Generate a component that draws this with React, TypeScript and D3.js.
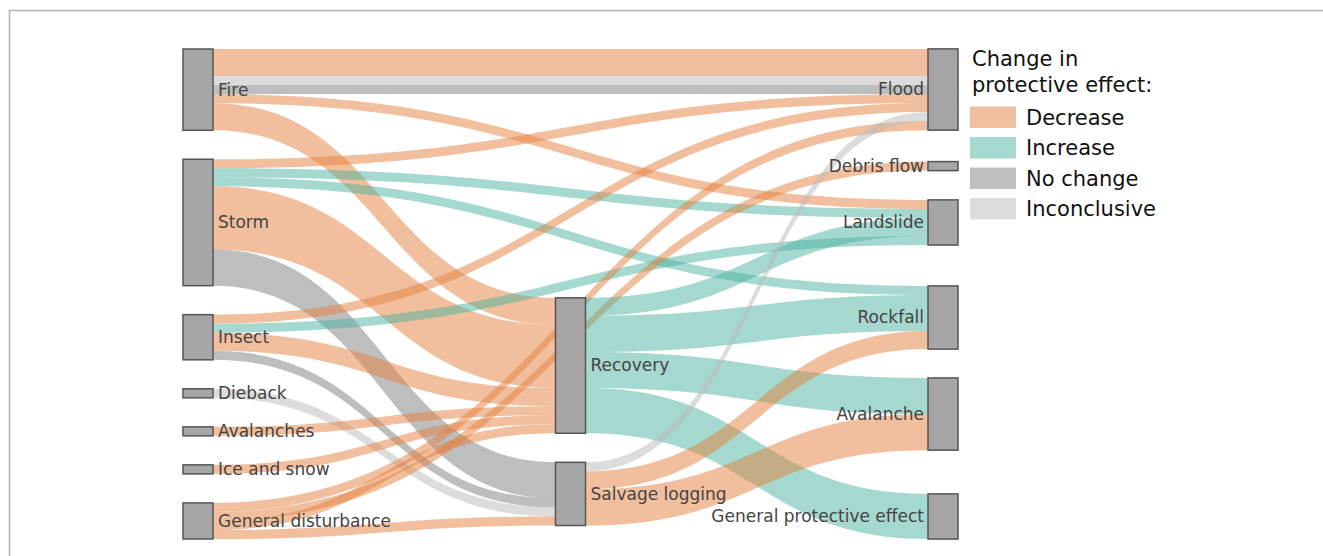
import { useEffect, useRef } from 'react';
import * as d3 from 'd3';

// nodes, in column order (disturbances -> post-disturbance -> hazards)
const nodeNames = [
  'Fire', 'Storm', 'Insect', 'Dieback', 'Avalanches', 'Ice and snow', 'General disturbance',
  'Recovery', 'Salvage logging',
  'Flood', 'Debris flow', 'Landslide', 'Rockfall', 'Avalanche', 'General protective effect',
];
// placement hints for node centres (fraction of plot height, like plotly's node.y); null = let the layout decide
const nodeYHint: (number | null)[] = [
  null, null, null, null, null, null, null,
  0.646, 0.908,
  0.0827, 0.239, 0.354, 0.548, 0.745, 0.954,
];

// links (number of cases)
const linkSources = [
  'Fire', 'Fire', 'Fire', 'Fire', 'Fire',
  'Storm', 'Storm', 'Storm', 'Storm', 'Storm',
  'Insect', 'Insect', 'Insect', 'Insect',
  'Dieback', 'Avalanches', 'Ice and snow',
  'General disturbance', 'General disturbance', 'General disturbance', 'General disturbance',
  'Recovery', 'Recovery', 'Recovery', 'Recovery',
  'Salvage logging', 'Salvage logging', 'Salvage logging',
];
const linkTargets = [
  'Flood', 'Flood', 'Flood', 'Landslide', 'Recovery',
  'Flood', 'Landslide', 'Rockfall', 'Recovery', 'Salvage logging',
  'Flood', 'Landslide', 'Recovery', 'Salvage logging',
  'Salvage logging', 'Recovery', 'Recovery',
  'Flood', 'Debris flow', 'Recovery', 'Salvage logging',
  'Landslide', 'Rockfall', 'Avalanche', 'General protective effect',
  'Flood', 'Rockfall', 'Avalanche',
];
const linkValues = [
  3, 1, 1, 1, 3,
  1, 1, 1, 7, 4,
  1, 1, 2, 1,
  1, 1, 1,
  1, 1, 1, 1,
  2, 4, 4, 5,
  1, 2, 4,
];
const linkEffects = [
  'Decrease', 'Inconclusive', 'No change', 'Decrease', 'Decrease',
  'Decrease', 'Increase', 'Increase', 'Decrease', 'No change',
  'Decrease', 'Increase', 'Decrease', 'No change',
  'Inconclusive', 'Decrease', 'Decrease',
  'Decrease', 'Decrease', 'Decrease', 'Decrease',
  'Increase', 'Increase', 'Increase', 'Increase',
  'Inconclusive', 'Decrease', 'Decrease',
];

const effectNames = ['Decrease', 'Increase', 'No change', 'Inconclusive'];
const effectColors = ['rgba(227,128,60,0.5)', 'rgba(76,178,160,0.5)', 'rgba(125,125,125,0.5)', 'rgba(185,185,185,0.5)'];

const W = 1323;
const H = 556;
const EXTENT = { x0: 183, y0: 49, x1: 958, y1: 539 };
const NODE_WIDTH = 30;
const NODE_PAD = 29;
const ITERATIONS = 32;

interface SNode {
  name: string;
  index: number;
  sourceLinks: SLink[];
  targetLinks: SLink[];
  value: number;
  depth: number;
  fixed: boolean;
  x0: number; x1: number; y0: number; y1: number;
}
interface SLink {
  source: SNode;
  target: SNode;
  value: number;
  effect: string;
  index: number;
  width: number;
  y0: number; y1: number;
}

// small sankey layout (same steps as d3-sankey), node order kept as given
function layoutSankey() {
  const { x0: X0, y0: Y0, x1: X1, y1: Y1 } = EXTENT;
  const py = NODE_PAD;
  const yFrac = d3.scaleLinear().domain([0, 1]).range([Y0, Y1]);
  const nodes: SNode[] = nodeNames.map((name, index) => ({
    name, index, sourceLinks: [], targetLinks: [], value: 0, depth: 0, fixed: nodeYHint[index] != null,
    x0: 0, x1: 0, y0: 0, y1: 0,
  }));
  const byName = new Map(nodes.map((n) => [n.name, n]));
  const links: SLink[] = linkSources.map((s, i) => ({
    source: byName.get(s)!, target: byName.get(linkTargets[i])!, value: linkValues[i],
    effect: linkEffects[i], index: i, width: 0, y0: 0, y1: 0,
  }));
  links.forEach((l) => { l.source.sourceLinks.push(l); l.target.targetLinks.push(l); });
  nodes.forEach((n) => {
    n.value = Math.max(d3.sum(n.sourceLinks, (l) => l.value), d3.sum(n.targetLinks, (l) => l.value));
  });

  let changed = true;
  while (changed) {
    changed = false;
    links.forEach((l) => {
      if (l.target.depth < l.source.depth + 1) { l.target.depth = l.source.depth + 1; changed = true; }
    });
  }
  const maxDepth = d3.max(nodes, (n) => n.depth) ?? 0;
  nodes.forEach((n) => { if (!n.sourceLinks.length) n.depth = maxDepth; });
  const xStep = (X1 - X0 - NODE_WIDTH) / maxDepth;
  nodes.forEach((n) => { n.x0 = X0 + n.depth * xStep; n.x1 = n.x0 + NODE_WIDTH; });

  const columns: SNode[][] = d3.range(maxDepth + 1).map((d) => nodes.filter((n) => n.depth === d));

  const byTarget = (a: SLink, b: SLink) => a.target.y0 - b.target.y0 || a.index - b.index;
  const bySource = (a: SLink, b: SLink) => a.source.y0 - b.source.y0 || a.index - b.index;
  const reorderNodeLinks = (n: SNode) => {
    n.targetLinks.forEach((l) => l.source.sourceLinks.sort(byTarget));
    n.sourceLinks.forEach((l) => l.target.targetLinks.sort(bySource));
  };
  const move = (n: SNode, dy: number) => {
    if (n.fixed) return;
    n.y0 += dy;
    n.y1 += dy;
  };

  // initial breadths
  const ky = d3.min(columns, (c) => (Y1 - Y0 - (c.length - 1) * py) / d3.sum(c, (n) => n.value)) ?? 1;
  columns.forEach((c) => {
    let y = Y0;
    c.forEach((n) => {
      n.y0 = y;
      n.y1 = y + n.value * ky;
      y = n.y1 + py;
      n.sourceLinks.forEach((l) => { l.width = l.value * ky; });
    });
    const spread = (Y1 - y + py) / (c.length + 1);
    c.forEach((n, i) => {
      const hint = nodeYHint[n.index];
      const h = n.y1 - n.y0;
      if (hint != null) { n.y0 = yFrac(hint) - h / 2; n.y1 = n.y0 + h; } else { n.y0 += spread * (i + 1); n.y1 += spread * (i + 1); }
    });
    c.forEach((n) => { n.sourceLinks.sort(byTarget); n.targetLinks.sort(bySource); });
  });

  const targetTop = (source: SNode, target: SNode) => {
    let y = source.y0 - ((source.sourceLinks.length - 1) * py) / 2;
    for (const l of source.sourceLinks) { if (l.target === target) break; y += l.width + py; }
    for (const l of target.targetLinks) { if (l.source === source) break; y -= l.width; }
    return y;
  };
  const sourceTop = (source: SNode, target: SNode) => {
    let y = target.y0 - ((target.targetLinks.length - 1) * py) / 2;
    for (const l of target.targetLinks) { if (l.source === source) break; y += l.width + py; }
    for (const l of source.sourceLinks) { if (l.target === target) break; y -= l.width; }
    return y;
  };

  const topToBottom = (c: SNode[], y: number, i: number, a: number) => {
    for (; i < c.length; ++i) {
      const n = c[i];
      const dy = (y - n.y0) * a;
      if (dy > 1e-6) move(n, dy);
      y = n.y1 + py;
    }
  };
  const bottomToTop = (c: SNode[], y: number, i: number, a: number) => {
    for (; i >= 0; --i) {
      const n = c[i];
      const dy = (n.y1 - y) * a;
      if (dy > 1e-6) move(n, -dy);
      y = n.y0 - py;
    }
  };
  const resolveCollisions = (c: SNode[], a: number) => {
    const i = c.length >> 1;
    const subject = c[i];
    bottomToTop(c, subject.y0 - py, i - 1, a);
    topToBottom(c, subject.y1 + py, i + 1, a);
    bottomToTop(c, Y1, c.length - 1, a);
    topToBottom(c, Y0, 0, a);
  };

  for (let it = 0; it < ITERATIONS; ++it) {
    const alpha = Math.pow(0.99, it);
    const beta = Math.max(1 - alpha, (it + 1) / ITERATIONS);
    for (let i = columns.length - 2; i >= 0; --i) {
      columns[i].forEach((source) => {
        let y = 0;
        let w = 0;
        source.sourceLinks.forEach((l) => {
          const v = l.value * (l.target.depth - source.depth);
          y += sourceTop(source, l.target) * v;
          w += v;
        });
        if (!(w > 0)) return;
        move(source, (y / w - source.y0) * alpha);
        reorderNodeLinks(source);
      });
      resolveCollisions(columns[i], beta);
    }
    for (let i = 1; i < columns.length; ++i) {
      columns[i].forEach((target) => {
        let y = 0;
        let w = 0;
        target.targetLinks.forEach((l) => {
          const v = l.value * (target.depth - l.source.depth);
          y += targetTop(l.source, target) * v;
          w += v;
        });
        if (!(w > 0)) return;
        move(target, (y / w - target.y0) * alpha);
        reorderNodeLinks(target);
      });
      resolveCollisions(columns[i], beta);
    }
  }

  nodes.forEach((n) => { n.sourceLinks.sort(byTarget); n.targetLinks.sort(bySource); });
  nodes.forEach((n) => {
    let ys = n.y0;
    let yt = n.y0;
    n.sourceLinks.forEach((l) => { l.y0 = ys + l.width / 2; ys += l.width; });
    n.targetLinks.forEach((l) => { l.y1 = yt + l.width / 2; yt += l.width; });
  });

  return { nodes, links, maxDepth };
}

function linkPath(l: SLink) {
  const x0 = l.source.x1;
  const x1 = l.target.x0;
  const xm = d3.interpolateNumber(x0, x1)(0.5);
  const y0a = l.y0 - l.width / 2;
  const y0b = l.y0 + l.width / 2;
  const y1a = l.y1 - l.width / 2;
  const y1b = l.y1 + l.width / 2;
  return `M${x0},${y0a}C${xm},${y0a} ${xm},${y1a} ${x1},${y1a}L${x1},${y1b}C${xm},${y1b} ${xm},${y0b} ${x0},${y0b}Z`;
}

export default function App() {
  const svgRef = useRef<SVGSVGElement>(null);

  useEffect(() => {
    if (!svgRef.current) return;
    const svg = d3.select(svgRef.current);
    svg.selectAll('*').remove();

    const { nodes, links, maxDepth } = layoutSankey();
    const color = d3.scaleOrdinal<string, string>().domain(effectNames).range(effectColors);

    // frame
    svg.append('path')
      .attr('d', `M9.5,${H}V10.5H${W}`)
      .attr('fill', 'none')
      .attr('stroke', '#b4b4b4')
      .attr('stroke-width', 1.5);

    svg.append('g')
      .selectAll('path')
      .data(links)
      .join('path')
      .attr('d', linkPath)
      .attr('fill', (d) => color(d.effect));

    const ng = svg.append('g')
      .selectAll('g')
      .data(nodes)
      .join('g');

    ng.append('rect')
      .attr('x', (d) => d.x0)
      .attr('y', (d) => d.y0)
      .attr('width', (d) => d.x1 - d.x0)
      .attr('height', (d) => d.y1 - d.y0)
      .attr('fill', '#a6a6a6')
      .attr('stroke', '#555')
      .attr('stroke-width', 1.5);

    ng.append('text')
      .attr('x', (d) => (d.depth === maxDepth ? d.x0 - 4 : d.x1 + 5))
      .attr('y', (d) => (d.y0 + d.y1) / 2)
      .attr('dy', '0.35em')
      .attr('text-anchor', (d) => (d.depth === maxDepth ? 'end' : 'start'))
      .attr('font-family', 'DejaVu Sans, Verdana, sans-serif')
      .attr('font-size', 17)
      .attr('fill', '#444')
      .text((d) => d.name);

    // legend
    const lg = svg.append('g').attr('font-family', 'DejaVu Sans, Verdana, sans-serif').attr('fill', '#111');
    lg.append('text').attr('x', 972).attr('y', 66).attr('font-size', 21).text('Change in');
    lg.append('text').attr('x', 972).attr('y', 92).attr('font-size', 21).text('protective effect:');
    const ly = d3.scaleBand<string>().domain(effectNames).range([102, 224]).paddingInner(0.3).paddingOuter(0.15);
    const items = lg.selectAll('g.item').data(effectNames).join('g').attr('class', 'item');
    items.append('rect')
      .attr('x', 970)
      .attr('y', (d) => ly(d) ?? 0)
      .attr('width', 46)
      .attr('height', ly.bandwidth())
      .attr('fill', (d) => color(d));
    items.append('text')
      .attr('x', 1026)
      .attr('y', (d) => (ly(d) ?? 0) + ly.bandwidth() / 2)
      .attr('dy', '0.36em')
      .attr('font-size', 21)
      .text((d) => d);
  }, []);

  return (
    <svg
      ref={svgRef}
      width={W}
      height={H}
      style={{ position: 'absolute', left: 0, top: 0, background: '#fff' }}
    />
  );
}
